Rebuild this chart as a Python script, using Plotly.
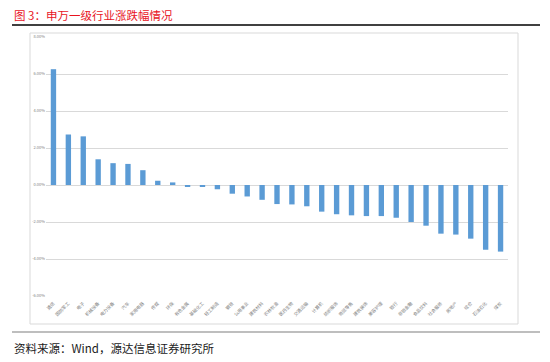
import plotly.graph_objects as go

industries = ["通信", "国防军工", "电子", "机械设备", "电力设备", "汽车", "家用电器", "传媒", "环保",
              "有色金属", "基础化工", "轻工制造", "钢铁", "公用事业", "建筑材料", "农林牧渔", "医药生物",
              "交通运输", "计算机", "纺织服饰", "商贸零售", "建筑装饰", "美容护理", "银行", "非银金融",
              "食品饮料", "社会服务", "房地产", "综合", "石油石化", "煤炭"]
changes = [6.26, 2.73, 2.63, 1.39, 1.18, 1.14, 0.80, 0.23, 0.14,
           -0.08, -0.10, -0.23, -0.47, -0.62, -0.80, -1.03, -1.05,
           -1.15, -1.44, -1.58, -1.64, -1.68, -1.68, -1.77, -2.00,
           -2.20, -2.63, -2.68, -2.90, -3.50, -3.60]
y_ticks = [8, 6, 4, 2, 0, -2, -4, -6]
y_tick_labels = ["8.00%", "6.00%", "4.00%", "2.00%", "0.00%", "-2.00%", "-4.00%", "-6.00%"]

W, H = 550, 362
def px(x): return x / W
def py(y): return 1 - y / H

fig = go.Figure(go.Bar(x=industries, y=changes, marker_color="#5b9bd5",
                       marker_line_width=0))

fig.update_layout(
    width=W, height=H, margin=dict(l=0, r=0, t=0, b=0, autoexpand=False),
    paper_bgcolor="white", plot_bgcolor="white",
    bargap=0.64, showlegend=False,
    font=dict(family="Noto Sans CJK SC, sans-serif"),
    xaxis=dict(domain=[px(46), px(508)], tickangle=-45, automargin=False,
               tickfont=dict(size=4.5, color="#7f7f7f"), showgrid=False,
               ticklabelstandoff=3,
               showline=False, ticks="", anchor="y"),
    yaxis=dict(domain=[py(296), py(37)], range=[-6, 8], tickvals=y_ticks,
               ticktext=y_tick_labels, tickfont=dict(size=4, color="#7f7f7f"),
               automargin=False,
               showgrid=True, gridcolor="#d9d9d9", gridwidth=1,
               zeroline=True, zerolinecolor="#d9d9d9", zerolinewidth=1,
               showline=False, ticks=""),
    shapes=[
        dict(type="line", xref="paper", yref="paper", x0=px(12), x1=px(540),
             y0=py(25), y1=py(25), line=dict(color="black", width=1.5)),
        dict(type="rect", xref="paper", yref="paper", x0=px(30), x1=px(518),
             y0=py(324), y1=py(33), line=dict(color="#d9d9d9", width=1)),
        dict(type="line", xref="paper", yref="paper", x0=px(12), x1=px(540),
             y0=py(332), y1=py(332), line=dict(color="#7f7f7f", width=1.2)),
    ],
    annotations=[
        dict(text="图 3：申万一级行业涨跌幅情况", xref="paper", yref="paper",
             x=px(12), y=py(15), xanchor="left", yanchor="middle", showarrow=False,
             font=dict(size=11.5, color="#e8141e", family="Noto Sans CJK SC")),
        dict(text="资料来源：Wind，源达信息证券研究所", xref="paper", yref="paper",
             x=px(12), y=py(348), xanchor="left", yanchor="middle", showarrow=False,
             font=dict(size=11.5, color="#1a1a1a", family="Noto Sans CJK SC")),
    ],
)

fig.write_html("out.html", config={"displayModeBar": False},
               post_script="document.body.style.margin='0';document.body.style.overflow='hidden';")
